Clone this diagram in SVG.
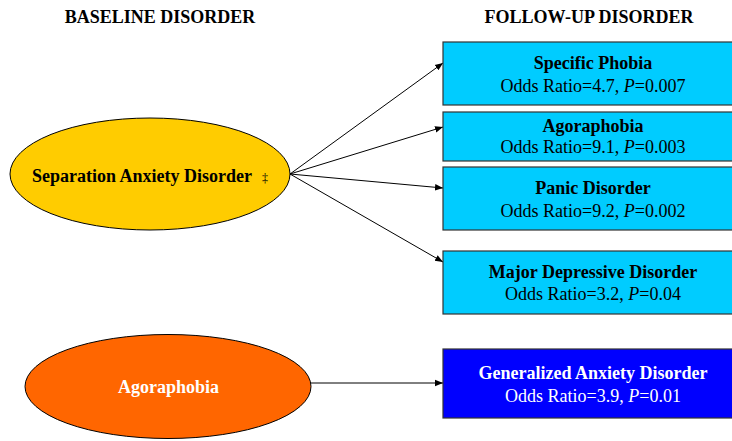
<svg xmlns="http://www.w3.org/2000/svg" width="732" height="441" viewBox="0 0 732 441">
<style>
text{font-family:"Liberation Serif","Times New Roman",serif;font-size:18px;text-anchor:middle;fill:#000}
.b{font-weight:bold}
.w{fill:#fff}
.box{fill:#00ccff;stroke:#333;stroke-width:1.2}
.edge{stroke:#000;stroke-width:1;fill:none;marker-end:url(#ah)}
</style>
<defs>
<marker id="ah" viewBox="0 0 10 10" refX="10" refY="5" markerWidth="8" markerHeight="8" markerUnits="userSpaceOnUse" orient="auto">
<path d="M0,1 L10,5 L0,9 z" fill="#000"/>
</marker>
</defs>
<rect width="732" height="441" fill="#fff"/>
<g id="headers">
<text class="b" x="160" y="23">BASELINE DISORDER</text>
<text class="b" x="589" y="23">FOLLOW-UP DISORDER</text>
</g>
<g id="connectors">
<line class="edge" x1="290" y1="174" x2="443" y2="63"/>
<line class="edge" x1="290" y1="174" x2="443" y2="127"/>
<line class="edge" x1="290" y1="174" x2="443" y2="188"/>
<line class="edge" x1="290" y1="174" x2="443" y2="262"/>
<line class="edge" x1="311" y1="383" x2="443" y2="383" stroke="#555"/>
</g>
<g id="sad">
<ellipse cx="150" cy="174" rx="140" ry="56" fill="#ffcc00" stroke="#000" stroke-width="1"/>
<text class="b" x="142" y="182">Separation Anxiety Disorder</text>
<text x="265" y="182" style="font-size:12px">‡</text>
</g>
<g id="agora">
<ellipse cx="168" cy="386.5" rx="143" ry="52" fill="#ff6600" stroke="#000" stroke-width="1"/>
<text class="b w" x="168.5" y="393">Agoraphobia</text>
</g>
<g id="specific">
<rect class="box" x="443" y="42" width="300" height="63"/>
<text class="b" x="593" y="69">Specific Phobia</text>
<text x="593" y="92">Odds Ratio=4.7, <tspan font-style="italic">P</tspan>=0.007</text>
</g>
<g id="agoraphobia-fu">
<rect class="box" x="443" y="112" width="300" height="49"/>
<text class="b" x="593" y="132">Agoraphobia</text>
<text x="593" y="153">Odds Ratio=9.1, <tspan font-style="italic">P</tspan>=0.003</text>
</g>
<g id="panic">
<rect class="box" x="443" y="167" width="300" height="63"/>
<text class="b" x="593" y="194">Panic Disorder</text>
<text x="593" y="217">Odds Ratio=9.2, <tspan font-style="italic">P</tspan>=0.002</text>
</g>
<g id="mdd">
<rect class="box" x="443" y="251" width="300" height="63"/>
<text class="b" x="593" y="278">Major Depressive Disorder</text>
<text x="593" y="300">Odds Ratio=3.2, <tspan font-style="italic">P</tspan>=0.04</text>
</g>
<g id="gad">
<rect x="443" y="349" width="300" height="69" fill="#0000ff" stroke="#333" stroke-width="1.2"/>
<text class="b w" x="593" y="379">Generalized Anxiety Disorder</text>
<text class="w" x="593" y="402">Odds Ratio=3.9, <tspan font-style="italic">P</tspan>=0.01</text>
</g>
</svg>
